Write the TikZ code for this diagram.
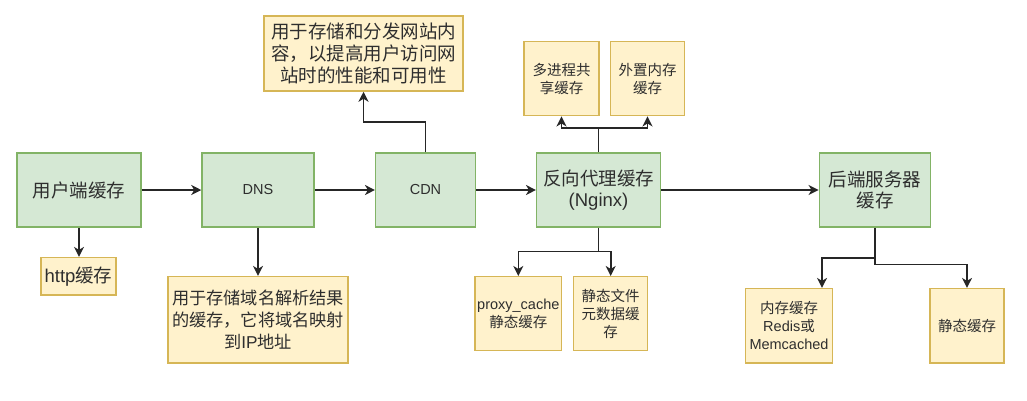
\documentclass[tikz,border=0pt]{standalone}
\usepackage{fontspec}
\setmainfont{Liberation Sans}
\newfontfamily\cjk{Noto Sans CJK SC}
\usetikzlibrary{arrows.meta}

\definecolor{gfill}{HTML}{D5E8D4}
\definecolor{gline}{HTML}{82B366}
\definecolor{yfill}{HTML}{FFF2CC}
\definecolor{yline}{HTML}{D6B656}
\definecolor{ink}{HTML}{2E2E2E}
\definecolor{wire}{HTML}{262626}

\tikzset{
  box/.style={draw, line width=1.5pt, inner sep=2pt, align=center, text=ink},
  gbox/.style={box, fill=gfill, draw=gline, minimum height=74pt},
  ybox/.style={box, fill=yfill, draw=yline},
  big/.style={font=\fontsize{18.5}{21.7}\selectfont},
  mid/.style={font=\fontsize{17.2}{21.7}\selectfont},
  small/.style={font=\fontsize{14.5}{18}\selectfont},
  arr/.style={draw=wire, line width=1.6pt,
    -{Stealth[length=10pt,width=10pt,inset=3pt]}},
}

\begin{document}
\begin{tikzpicture}[x=1pt,y=-1pt]
\useasboundingbox (0,0) rectangle (1027,400);

% main chain of cache layers
\node[gbox, big, minimum width=124pt] (user) at (79,190) {{\cjk 用户端缓存}};
\node[gbox, small, minimum width=112pt] (dns) at (258,190) {DNS};
\node[gbox, small, minimum width=99.6pt] (cdn) at (425.5,190) {CDN};
\node[gbox, big, minimum width=123.6pt] (nginx) at (598.5,190) {{\cjk 反向代理缓存}\\(Nginx)};
\node[gbox, big, minimum width=111.4pt] (backend) at (875,190) {{\cjk 后端服务器}\\{\cjk 缓存}};

% detail boxes
\node[ybox, big, minimum width=75pt, minimum height=37.3pt] (http) at (78.5,276.3) {http{\cjk 缓存}};
\node[ybox, mid, minimum width=180pt, minimum height=86.3pt] (dnsnote) at (258,319.8)
  {{\cjk 用于存储域名解析结果}\\{\cjk 的缓存，它将域名映射}\\{\cjk 到}IP{\cjk 地址}};
\node[ybox, big, minimum width=199pt, minimum height=75pt] (cdnnote) at (363.5,53.5)
  {{\cjk 用于存储和分发网站内}\\{\cjk 容，以提高用户访问网}\\{\cjk 站时的性能和可用性}};
\node[ybox, small, minimum width=75pt, minimum height=74.4pt] (multi) at (561.5,78.5)
  {{\cjk 多进程共}\\{\cjk 享缓存}};
\node[ybox, small, minimum width=74.4pt, minimum height=74.4pt] (ext) at (647.5,78.5)
  {{\cjk 外置内存}\\{\cjk 缓存}};
\node[ybox, small, minimum width=86.7pt, minimum height=74pt] (proxy) at (518.3,313.7)
  {proxy\_cache\\{\cjk 静态缓存}};
\node[ybox, small, minimum width=74pt, minimum height=74pt] (sfile) at (610.7,313.7)
  {{\cjk 静态文件}\\{\cjk 元数据缓}\\{\cjk 存}};
\node[ybox, small, minimum width=86.6pt, minimum height=74.3pt] (mem) at (789,325.8)
  {{\cjk 内存缓存}\\Redis{\cjk 或}\\Memcached};
\node[ybox, small, minimum width=74pt, minimum height=74.3pt] (stat) at (967,325.8)
  {{\cjk 静态缓存}};

% bend points
\coordinate (cdnbend) at (425.5,121.7);
\coordinate (ngup) at (598.5,127.7);
\coordinate (ngdn) at (598.5,251.3);
\coordinate (memtap) at (822,258);
\coordinate (sttap) at (967,264.3);

% connectors
\draw[arr] (user) -- (dns);
\draw[arr] (dns) -- (cdn);
\draw[arr] (cdn) -- (nginx);
\draw[arr] (nginx) -- (backend);
\draw[arr] (user.south) -- (user.south |- http.north);
\draw[arr] (dns.south) -- (dnsnote.north);
\draw[arr] (cdn.north) -- (cdnbend) -| (cdnnote.south);
\draw[arr] (nginx.north) -- (ngup) -| (multi.south);
\draw[arr] (ngup) -| (ext.south);
\draw[arr] (nginx.south) -- (ngdn) -| (proxy.north);
\draw[arr] (ngdn) -| (sfile.north);
\draw[arr] (backend.south) |- (memtap) -- (memtap |- mem.north);
\draw[arr] (backend.south) |- (sttap) -- (stat.north);
\end{tikzpicture}
\end{document}
